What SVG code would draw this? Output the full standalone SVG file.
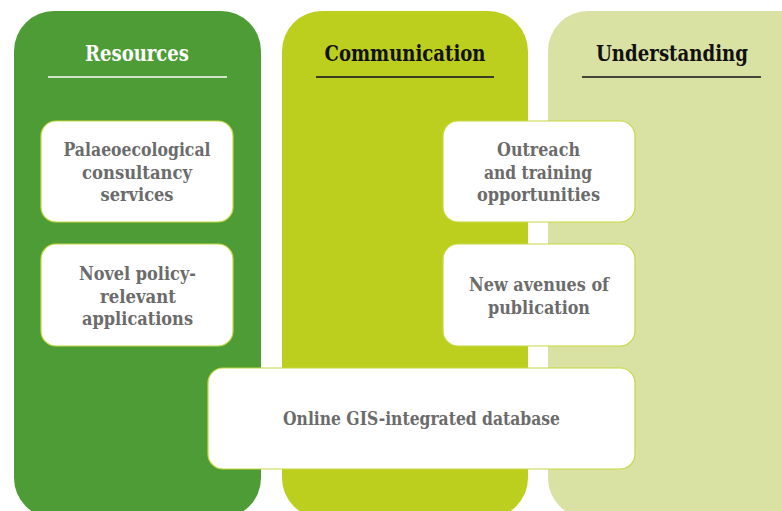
<svg xmlns="http://www.w3.org/2000/svg" width="782" height="511" viewBox="0 0 782 511">
  <style>
    .head { font-family: "DejaVu Serif", "Liberation Serif", serif; font-weight: bold; font-size: 21.5px; text-anchor: middle; }
    .lbl { font-family: "DejaVu Serif", "Liberation Serif", serif; font-weight: bold; font-size: 18.5px; fill: #6b6b6b; text-anchor: middle; }
    .box { fill: #ffffff; stroke: #c6d843; stroke-width: 1.2; }
    .rule { stroke-width: 2; }
  </style>
  <rect width="782" height="511" fill="#ffffff"/>

  <!-- column backgrounds -->
  <g id="columns">
    <rect x="14" y="11" width="247" height="507" rx="40" fill="#4e9c35"/>
    <rect x="282" y="11" width="246" height="507" rx="40" fill="#bccf1e"/>
    <rect x="548" y="11" width="280" height="507" rx="40" fill="#d9e2a2"/>
  </g>

  <!-- column headings -->
  <g id="heading-resources">
    <text class="head" x="137" y="61" fill="#ffffff" textLength="104" lengthAdjust="spacingAndGlyphs">Resources</text>
    <line class="rule" x1="48" y1="77" x2="227" y2="77" stroke="#d3e3c9"/>
  </g>
  <g id="heading-communication">
    <text class="head" x="405" y="61" fill="#111111" textLength="161" lengthAdjust="spacingAndGlyphs">Communication</text>
    <line class="rule" x1="316" y1="77" x2="494" y2="77" stroke="#3b3d22"/>
  </g>
  <g id="heading-understanding">
    <text class="head" x="672" y="61" fill="#111111" textLength="152" lengthAdjust="spacingAndGlyphs">Understanding</text>
    <line class="rule" x1="582" y1="77" x2="761" y2="77" stroke="#44463a"/>
  </g>

  <!-- connectors: none drawn -->
  <g id="connectors"/>

  <g id="palaeo">
    <rect class="box" x="41" y="121" width="192" height="101" rx="15"/>
    <text class="lbl" x="137" y="156" textLength="147" lengthAdjust="spacingAndGlyphs">Palaeoecological</text>
    <text class="lbl" x="137" y="178.5" textLength="110" lengthAdjust="spacingAndGlyphs">consultancy</text>
    <text class="lbl" x="137" y="201" textLength="73" lengthAdjust="spacingAndGlyphs">services</text>
  </g>

  <g id="policy">
    <rect class="box" x="41" y="244" width="192" height="102" rx="15"/>
    <text class="lbl" x="137.5" y="280" textLength="117" lengthAdjust="spacingAndGlyphs">Novel policy-</text>
    <text class="lbl" x="138" y="302.5" textLength="76" lengthAdjust="spacingAndGlyphs">relevant</text>
    <text class="lbl" x="137.5" y="325" textLength="111" lengthAdjust="spacingAndGlyphs">applications</text>
  </g>

  <g id="outreach">
    <rect class="box" x="443" y="121" width="192" height="101" rx="15"/>
    <text class="lbl" x="538.5" y="156" textLength="83" lengthAdjust="spacingAndGlyphs">Outreach</text>
    <text class="lbl" x="538" y="178.5" textLength="108" lengthAdjust="spacingAndGlyphs">and training</text>
    <text class="lbl" x="538.5" y="201" textLength="123" lengthAdjust="spacingAndGlyphs">opportunities</text>
  </g>

  <g id="publication">
    <rect class="box" x="443" y="244" width="192" height="102" rx="15"/>
    <text class="lbl" x="539" y="291" textLength="140" lengthAdjust="spacingAndGlyphs">New avenues of</text>
    <text class="lbl" x="539" y="313.5" textLength="102" lengthAdjust="spacingAndGlyphs">publication</text>
  </g>

  <g id="database">
    <rect class="box" x="208" y="368" width="427" height="101" rx="15"/>
    <text class="lbl" x="421.5" y="425" textLength="277" lengthAdjust="spacingAndGlyphs">Online GIS-integrated database</text>
  </g>
</svg>
